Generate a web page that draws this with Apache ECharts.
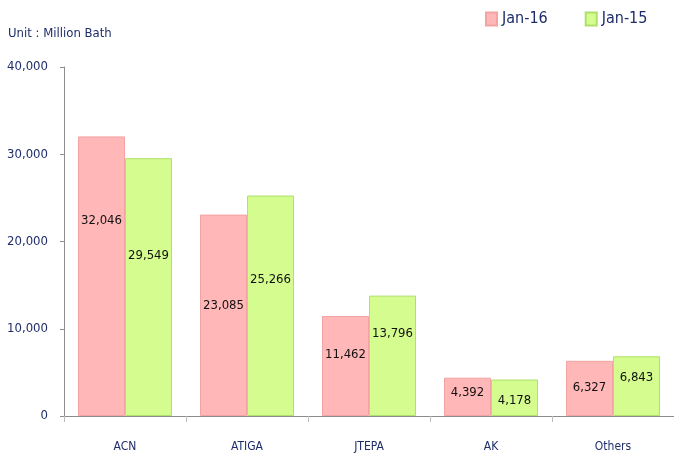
<!DOCTYPE html>
<html>
<head>
<meta charset="utf-8">
<script src="https://cdn.jsdelivr.net/npm/echarts@6/dist/echarts.min.js"></script>
<style>
  html, body { margin: 0; padding: 0; background: #fff; }
  #chart { width: 674px; height: 456px; }
</style>
</head>
<body>
<div id="chart"></div>
<script>
var categories = ['ACN', 'ATIGA', 'JTEPA', 'AK', 'Others'];
var jan16 = [32046, 23085, 11462, 4392, 6327];
var jan15 = [29549, 25266, 13796, 4178, 6843];
var yTicks = [0, 10000, 20000, 30000, 40000];

// labels in the original were nudged by hand, so keep the vertical nudges here
var jan16LabelShift = [-56, -10, -11, -4, -1];
var jan15LabelShift = [-31, -26, -22, 3, -9];

var navy = '#1f2d6b';
var font = "'DejaVu Sans Condensed', 'Liberation Sans Narrow', sans-serif";

function withShift(values, shifts) {
  return values.map(function (v, i) {
    return { value: v, label: { offset: [0, shifts[i]] } };
  });
}

var chart = echarts.init(document.getElementById('chart'));

var option = {
  animation: false,
  textStyle: { fontFamily: font },
  title: {
    text: 'Unit : Million Bath',
    left: 3,
    top: 22,
    textStyle: { color: navy, fontSize: 13, fontWeight: 'normal', fontFamily: font }
  },
  legend: {
    left: 480,
    top: 6,
    itemWidth: 11,
    itemHeight: 13,
    itemGap: 37,
    icon: 'rect',
    textStyle: { color: navy, fontSize: 16, fontFamily: font },
    data: ['Jan-16', 'Jan-15']
  },
  grid: { left: 64, top: 67, width: 611, bottom: 40 },
  xAxis: {
    type: 'category',
    data: categories,
    axisLine: { lineStyle: { color: '#8c8c8c' } },
    axisTick: { show: true, length: 6, lineStyle: { color: '#bcbcbc' } },
    axisLabel: { color: navy, fontSize: 12, margin: 25, fontFamily: font }
  },
  yAxis: {
    type: 'value',
    min: yTicks[0],
    max: yTicks[yTicks.length - 1],
    interval: yTicks[1] - yTicks[0],
    axisLine: { show: true, lineStyle: { color: '#8c8c8c' } },
    axisTick: { show: true, length: 4, lineStyle: { color: '#8c8c8c' } },
    splitLine: { show: false },
    axisLabel: {
      color: navy,
      fontSize: 13,
      margin: 16,
      fontFamily: font,
      formatter: function (v) { return v.toLocaleString('en-US'); }
    }
  },
  series: [
    {
      name: 'Jan-16',
      type: 'bar',
      barWidth: 47,
      barGap: '0%',
      data: withShift(jan16, jan16LabelShift),
      itemStyle: { color: '#ffb7b7', borderColor: '#f3a3a3', borderWidth: 1 },
      label: {
        show: true,
        position: 'inside',
        color: '#111',
        fontSize: 13,
        fontFamily: font,
        formatter: function (p) { return p.value.toLocaleString('en-US'); }
      }
    },
    {
      name: 'Jan-15',
      type: 'bar',
      barWidth: 47,
      barGap: '0%',
      data: withShift(jan15, jan15LabelShift),
      itemStyle: { color: '#d5fc8e', borderColor: '#aee06a', borderWidth: 1 },
      label: {
        show: true,
        position: 'inside',
        color: '#111',
        fontSize: 13,
        fontFamily: font,
        formatter: function (p) { return p.value.toLocaleString('en-US'); }
      }
    }
  ]
};

chart.setOption(option);
</script>
</body>
</html>
